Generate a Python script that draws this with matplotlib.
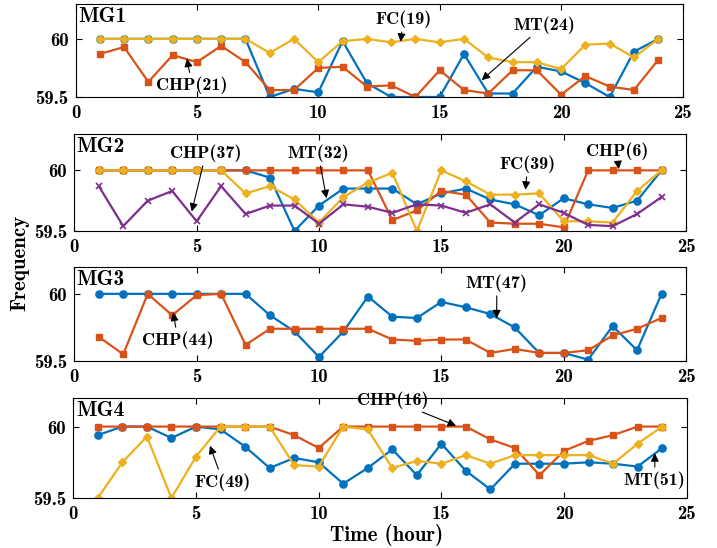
import matplotlib
matplotlib.use("Agg")
import matplotlib.pyplot as plt

plt.rcParams['font.family'] = ['cmb10', 'DejaVu Serif']
plt.rcParams['axes.formatter.use_mathtext'] = True

hours = list(range(1, 25))

# MG1
mg1_mt = [60, 60, 60, 60, 60, 60, 60, 59.5, 59.57, 59.54, 59.98, 59.62,
          59.5, 59.5, 59.5, 59.87, 59.53, 59.53, 59.76, 59.72, 59.62, 59.5, 59.89, 60]
mg1_chp = [59.87, 59.93, 59.63, 59.86, 59.80, 59.94, 59.80, 59.56, 59.56, 59.75, 59.76, 59.59,
           59.60, 59.5, 59.73, 59.56, 59.53, 59.73, 59.73, 59.52, 59.68, 59.59, 59.56, 59.82]
mg1_fc = [60, 60, 60, 60, 60, 60, 60, 59.88, 60, 59.80, 59.98, 60,
          59.97, 60, 59.97, 60, 59.84, 59.80, 59.80, 59.74, 59.95, 59.96, 59.84, 60]

# MG2
mg2_mt = [60, 60, 60, 60, 60, 60, 60, 59.94, 59.5, 59.71, 59.85, 59.85,
          59.85, 59.72, 59.81, 59.85, 59.76, 59.72, 59.63, 59.77, 59.72, 59.69, 59.75, 60]
mg2_chp = [60, 60, 60, 60, 60, 60, 60, 60, 60, 60, 60, 60,
           59.59, 59.67, 59.83, 59.80, 59.57, 59.56, 59.56, 59.53, 60, 60, 60, 60]
mg2_fc = [60, 60, 60, 60, 60, 60, 59.81, 59.87, 59.76, 59.57, 59.78, 59.90,
          59.98, 59.5, 60, 59.91, 59.80, 59.80, 59.81, 59.58, 59.58, 59.57, 59.83, 60]
mg2_chp2 = [59.87, 59.54, 59.75, 59.83, 59.58, 59.87, 59.64, 59.71, 59.71, 59.56, 59.72, 59.70,
            59.65, 59.72, 59.71, 59.65, 59.72, 59.57, 59.72, 59.65, 59.55, 59.54, 59.64, 59.78]

# MG3
mg3_mt = [60, 60, 60, 60, 60, 60, 60, 59.84, 59.72, 59.53, 59.72, 59.98,
          59.83, 59.82, 59.94, 59.90, 59.85, 59.75, 59.56, 59.56, 59.51, 59.76, 59.58, 60]
mg3_chp = [59.68, 59.55, 60, 59.84, 59.99, 60, 59.62, 59.74, 59.74, 59.74, 59.74, 59.74,
           59.66, 59.65, 59.66, 59.66, 59.56, 59.59, 59.56, 59.56, 59.58, 59.69, 59.74, 59.82]

# MG4
mg4_mt = [59.94, 60, 60, 59.92, 60, 59.98, 59.86, 59.71, 59.78, 59.75, 59.60, 59.71,
          59.84, 59.66, 59.88, 59.69, 59.56, 59.74, 59.74, 59.74, 59.75, 59.74, 59.72, 59.85]
mg4_chp = [60, 60, 60, 60, 60, 60, 60, 60, 59.94, 59.85, 60, 60,
           60, 60, 60, 60, 59.91, 59.85, 59.66, 59.83, 59.90, 59.94, 60, 60]
mg4_fc = [59.5, 59.75, 59.93, 59.5, 59.79, 60, 60, 60, 59.73, 59.72, 60, 59.98,
          59.71, 59.76, 59.74, 59.80, 59.74, 59.80, 59.80, 59.80, 59.80, 59.74, 59.88, 60]

blue = "#0072BD"
orange = "#D95319"
yellow = "#EDB120"
purple = "#7E2F8E"

W, H = 717, 548
fig = plt.figure(figsize=(W / 100, H / 100), dpi=100)


def px_axes(left, top, right, bottom):
    return fig.add_axes([left / W, 1 - bottom / H, (right - left) / W, (bottom - top) / H])


panels = [
    dict(name="MG1", box=(75.5, 4, 682.5, 97), top=60.3,
         series=[(mg1_mt, blue, "o"), (mg1_chp, orange, "s"), (mg1_fc, yellow, "D")],
         notes=[("CHP(21)", (4.8, 59.60), (4.59, 59.83)),
                ("FC(19)", (13.5, 60.17), (13.39, 59.975)),
                ("MT(24)", (19.3, 60.12), (16.73, 59.645))]),
    dict(name="MG2", box=(74.3, 134, 686, 231), top=60.3,
         series=[(mg2_mt, blue, "o"), (mg2_chp, orange, "s"), (mg2_fc, yellow, "D"),
                 (mg2_chp2, purple, "x")],
         notes=[("CHP(37)", (5.38, 60.143), (4.80, 59.66)),
                ("MT(32)", (9.96, 60.143), (10.31, 59.77)),
                ("FC(39)", (18.53, 60.053), (18.44, 59.84)),
                ("CHP(6)", (22.17, 60.16), (22.25, 60.01))]),
    dict(name="MG3", box=(74.3, 267, 686, 361), top=60.2,
         series=[(mg3_mt, blue, "o"), (mg3_chp, orange, "s")],
         notes=[("CHP(44)", (4.24, 59.656), (4.04, 59.86)),
                ("MT(47)", (17.27, 60.081), (17.26, 59.818))]),
    dict(name="MG4", box=(73.3, 398, 686.7, 498), top=60.2,
         series=[(mg4_mt, blue, "o"), (mg4_chp, orange, "s"), (mg4_fc, yellow, "D")],
         notes=[("FC(49)", (6.10, 59.612), (5.57, 59.866)),
                ("CHP(16)", (13.0, 60.186), (15.6, 60.006)),
                ("MT(51)", (23.70, 59.626), (23.70, 59.813))]),
]

for p in panels:
    ax = px_axes(*p["box"])
    for vals, col, mk in p["series"]:
        ms = 4.2 if mk != "o" else 5.2
        ax.plot(hours, vals, color=col, marker=mk, markersize=ms, lw=1.6,
                markeredgewidth=1.2 if mk == "x" else 1.0)
    ax.set_xlim(0, 25)
    ax.set_ylim(59.5, p["top"])
    ax.set_xticks([0, 5, 10, 15, 20, 25], ["0", "5", "10", "15", "20", "25"])
    ax.set_yticks([59.5, 60], ["59.5", "60"])
    ax.tick_params(direction="in", top=True, right=True, length=4.5, width=0.8,
                   labelsize=13.5, pad=5)
    for sp in ax.spines.values():
        sp.set_linewidth(0.8)
    ax.text(0.004, 0.965, p["name"], transform=ax.transAxes, fontsize=15.5,
            va="top", ha="left")
    for label, txy, tip in p["notes"]:
        ax.annotate(label, xy=tip, xytext=txy, ha="center", va="center",
                    fontsize=13, annotation_clip=False,
                    arrowprops=dict(arrowstyle="-|>", color="k", lw=0.8,
                                    mutation_scale=12, shrinkA=1, shrinkB=0))

fig.text(20 / W, 1 - 263 / H, "Frequency", rotation=90, ha="center", va="center",
         fontsize=15)
fig.text(387 / W, 1 - 535 / H, "Time (hour)", ha="center", va="center", fontsize=15)

fig.savefig("out.png", dpi=100)
